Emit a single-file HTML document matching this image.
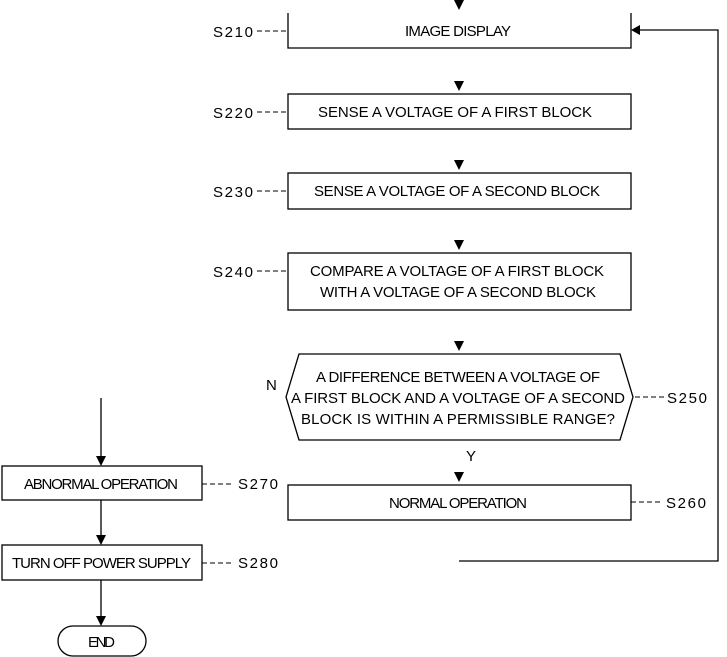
<!DOCTYPE html>
<html><head><style>body{margin:0;background:#fff}svg{display:block}text{font-family:"Liberation Sans",sans-serif;font-size:15px;fill:#000}</style></head><body>
<svg width="727" height="657" viewBox="0 0 727 657" xmlns="http://www.w3.org/2000/svg">
<g stroke="#000" stroke-width="1.3" fill="none">
<path d="M288,13 V48 H631 V13"/>
<rect x="288" y="94" width="343" height="35"/>
<rect x="288" y="173" width="343" height="36"/>
<rect x="288" y="253" width="343" height="57"/>
<path d="M299,354 H620 L633,397 L620,440 H299 L286,397 Z"/>
<rect x="288" y="485" width="343" height="35"/>
<path d="M459,561 H718 V30 H640"/>
<rect x="2" y="466" width="200" height="34"/>
<rect x="2" y="545" width="200" height="35"/>
<rect x="58" y="626" width="88" height="30" rx="15"/>
<path d="M101,398 V458 M101,500 V537 M101,580 V618"/>
<path d="M257,31 H288 M257,112 H288 M257,191 H288 M257,271 H288 M635,397 H665 M631,502 H663 M202,484 H233 M202,563 H233" stroke-width="1" stroke-dasharray="5,3"/>
</g>
<g fill="#000">
<path d="M454,0 H464 L459,10Z"/>
<path d="M454,81 H464 L459,91Z"/>
<path d="M454,160 H464 L459,170Z"/>
<path d="M454,240 H464 L459,250Z"/>
<path d="M454,341 H464 L459,351Z"/>
<path d="M454,472 H464 L459,482Z"/>
<path d="M640,25 V35 L631,30Z"/>
<path d="M96,456 H106 L101,466Z"/>
<path d="M96,535 H106 L101,545Z"/>
<path d="M96,616 H106 L101,626Z"/>
</g>
<text x="405" y="36" textLength="106">IMAGE DISPLAY</text>
<text x="318" y="117" textLength="274">SENSE A VOLTAGE OF A FIRST BLOCK</text>
<text x="314" y="196" textLength="286">SENSE A VOLTAGE OF A SECOND BLOCK</text>
<text x="310" y="276" textLength="294">COMPARE A VOLTAGE OF A FIRST BLOCK</text>
<text x="320" y="297" textLength="276">WITH A VOLTAGE OF A SECOND BLOCK</text>
<text x="316" y="382" textLength="284">A DIFFERENCE BETWEEN A VOLTAGE OF</text>
<text x="291" y="403" textLength="334">A FIRST BLOCK AND A VOLTAGE OF A SECOND</text>
<text x="301" y="424" textLength="314">BLOCK IS WITHIN A PERMISSIBLE RANGE?</text>
<text x="389" y="508" textLength="138">NORMAL OPERATION</text>
<text x="266" y="390">N</text>
<text x="466" y="461">Y</text>
<text x="24" y="489" textLength="154">ABNORMAL OPERATION</text>
<text x="12" y="568" textLength="179">TURN OFF POWER SUPPLY</text>
<text x="88" y="647" textLength="27">END</text>
<text x="213" y="37" textLength="40">S210</text>
<text x="213" y="118" textLength="40">S220</text>
<text x="213" y="197" textLength="40">S230</text>
<text x="213" y="277" textLength="40">S240</text>
<text x="667" y="403" textLength="40">S250</text>
<text x="666" y="508" textLength="40">S260</text>
<text x="238" y="489" textLength="40">S270</text>
<text x="238" y="568" textLength="40">S280</text>
</svg>
</body></html>
